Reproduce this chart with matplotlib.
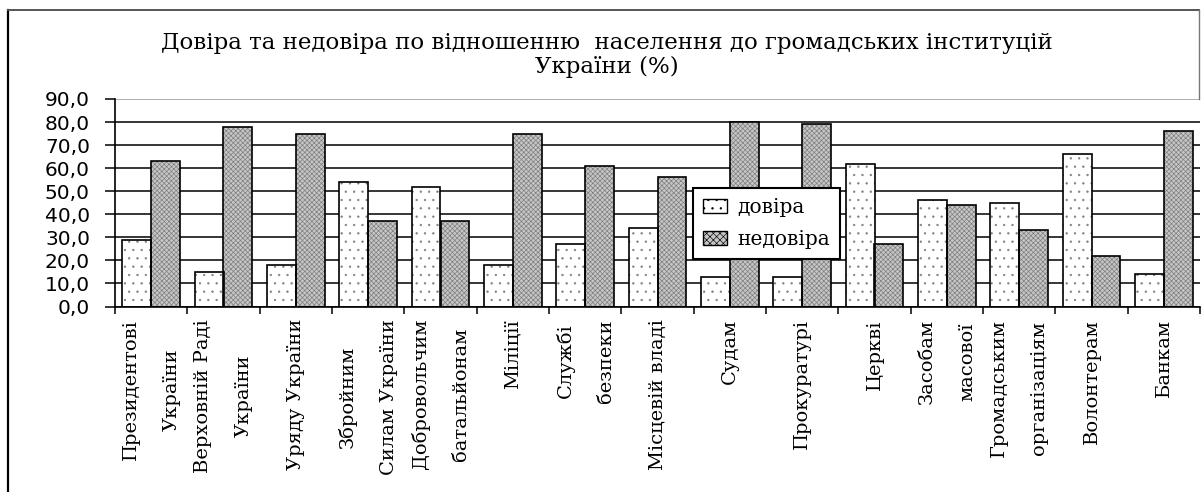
import matplotlib.pyplot as plt
import numpy as np
from matplotlib.lines import Line2D
from matplotlib.patches import Patch
from matplotlib.ticker import FuncFormatter

# categories (Excel wrapped them into two rotated lines)
categories = ["Президентові\nУкраїни", "Верховній Раді\nУкраїни", "Уряду України",
              "Збройним\nСилам України", "Добровольчим\nбатальйонам", "Міліції",
              "Службі\nбезпеки", "Місцевій владі", "Судам", "Прокуратурі", "Церкві",
              "Засобам\nмасової", "Громадським\nорганізаціям", "Волонтерам", "Банкам"]
dovira = [29, 15, 18, 54, 52, 18, 27, 34, 13, 13, 62, 46, 45, 66, 14]
nedovira = [63, 78, 75, 37, 37, 75, 61, 56, 80, 79, 27, 44, 33, 22, 76]
series_names = ["довіра", "недовіра"]
yticks = np.arange(0, 91, 10)
title = "Довіра та недовіра по відношенню  населення до громадських інституцій\nУкраїни (%)"

SERIF = "DejaVu Serif"
W, H = 1201, 492

plt.rcParams["hatch.linewidth"] = 0.45

fig = plt.figure(figsize=(W / 100, H / 100), dpi=100)
ax = fig.add_axes([115 / W, 1 - 306.5 / H, 1085 / W, 207.5 / H])

x = np.arange(len(categories))
bw = 0.4

# fills first (hatch in grey), then black outlines on top
ax.bar(x - bw / 2, dovira, bw, color="white", edgecolor="#808080", hatch="..", linewidth=0, zorder=2)
ax.bar(x + bw / 2, nedovira, bw, color="#c6c6c6", edgecolor="#7a7a7a", hatch="xxxxxxx", linewidth=0, zorder=2)
ax.bar(x - bw / 2, dovira, bw, fill=False, edgecolor="black", linewidth=1.2, zorder=3)
ax.bar(x + bw / 2, nedovira, bw, fill=False, edgecolor="black", linewidth=1.2, zorder=3)

ax.set_xlim(-0.5, len(categories) - 0.5)
ax.set_ylim(0, 90)
ax.set_yticks(yticks)
ax.yaxis.set_major_formatter(FuncFormatter(lambda v, p: f"{v:.1f}".replace(".", ",")))
ax.tick_params(axis="y", length=7, width=1.1, pad=11, labelsize=14.5, colors="black")
for lab in ax.get_yticklabels():
    lab.set_fontfamily("DejaVu Sans")

ax.yaxis.grid(True, color="black", linewidth=1.1)
ax.set_axisbelow(True)
ax.get_ygridlines()[-1].set_color("#999999")

ax.set_xticks(x)
ax.set_xticklabels(categories, rotation=90, fontfamily=SERIF, fontsize=14,
                   linespacing=2.6, multialignment="center")
ax.set_xticks(np.arange(-0.5, len(categories)), minor=True)
ax.tick_params(axis="x", which="major", length=0, pad=9)
ax.tick_params(axis="x", which="minor", length=5, width=1.1, direction="out")

for side in ["top", "right"]:
    ax.spines[side].set_visible(False)
for side in ["left", "bottom"]:
    ax.spines[side].set_linewidth(1.2)

handles = [Patch(facecolor="white", edgecolor="black", hatch="..", linewidth=1),
           Patch(facecolor="#c6c6c6", edgecolor="black", hatch="xxxxx", linewidth=1)]
leg = ax.legend(handles, series_names, loc="upper left", bbox_to_anchor=(0.5327, 0.571),
                borderaxespad=0, fancybox=False, framealpha=1, edgecolor="black",
                prop={"family": SERIF, "size": 14.5}, handlelength=1.2, handleheight=0.7,
                handletextpad=0.5, labelspacing=0.65, borderpad=0.5)
leg.get_frame().set_linewidth(1.5)
leg.set_zorder(5)

fig.text(607 / W, 1 - 55 / H, title, ha="center", va="center", fontfamily=SERIF,
         fontsize=16.5, linespacing=1.15)

# chart area border
fig.add_artist(Line2D([8 / W, 8 / W], [0, 1 - 10 / H], color="black", linewidth=1.6))
fig.add_artist(Line2D([8 / W, 1199 / W], [1 - 10 / H, 1 - 10 / H], color="#555555", linewidth=1.4))
fig.add_artist(Line2D([1199 / W, 1199 / W], [1 - 10 / H, 1 - 99 / H], color="#777777", linewidth=1.0))

fig.savefig("out.png", dpi=100, facecolor="white")
